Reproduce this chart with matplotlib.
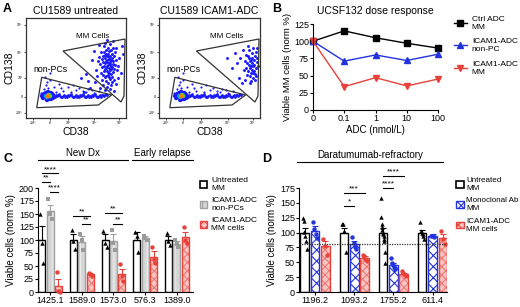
import numpy as np
import matplotlib
matplotlib.use('Agg')
import matplotlib.pyplot as plt
from matplotlib.patches import Patch, Polygon

plt.rcParams['font.family'] = ['Liberation Sans', 'DejaVu Sans']
plt.rcParams['hatch.linewidth'] = 0.8

W, H = 520, 307

# ---- panel A : flow plots (display units 0..100) ----
gate_mm_u = [37, 99, 98, 95]
gate_mm_v = [67, 79, 22, 16]
gate_pc_u = [15.7, 85.7, 72.3, 10.7]
gate_pc_v = [40.7, 23, 13, 10.3]

left_mm_u = [82, 80, 84, 78, 86, 81, 83, 79, 85, 77, 88, 82, 80, 84, 76, 87, 83, 79, 81, 85, 78, 86, 82, 80, 84, 77, 89, 75, 83, 81,
             79, 86, 88, 76, 84, 80, 82, 85, 78, 87, 83, 79, 81, 84, 77, 86, 80, 82, 83, 85, 74, 90, 73, 91, 78, 87, 81, 85, 76, 89,
             70, 92, 79, 84, 88, 72, 80, 86, 75, 83, 90, 71, 93, 77, 84, 66, 95, 87, 79, 68, 96, 74, 90, 81, 69, 92, 60, 97, 73, 88,
             64, 58, 62, 55, 83, 81, 85, 79, 87, 82]
left_mm_v = [53, 50, 56, 47, 60, 58, 45, 55, 52, 62, 49, 64, 42, 39, 51, 57, 67, 60, 47, 44, 66, 64, 70, 37, 48, 56, 53, 45, 59, 52,
             41, 41, 62, 59, 62, 64, 35, 68, 52, 46, 50, 49, 62, 54, 43, 51, 57, 43, 55, 58, 54, 58, 61, 48, 72, 70, 31, 33, 38, 66,
             48, 52, 75, 74, 38, 57, 68, 36, 66, 41, 70, 42, 60, 33, 29, 58, 45, 77, 28, 67, 72, 30, 34, 78, 36, 40, 44, 64, 73, 27,
             30, 26, 37, 40, 61, 56, 49, 63, 54, 46]

right_mm_u = [92, 90, 94, 88, 95, 91, 93, 89, 96, 87, 92, 90, 94, 97, 86, 91, 93, 88, 95, 89, 92, 96, 90, 94, 87, 93, 91, 97, 85, 89,
              95, 86, 92, 90, 98, 84, 93, 88, 96, 91, 80, 77, 72, 67, 83, 79, 85, 75, 97, 82]
right_mm_v = [55, 50, 58, 47, 62, 45, 52, 60, 50, 55, 65, 42, 47, 56, 50, 58, 40, 62, 44, 53, 48, 66, 57, 53, 43, 70, 37, 60, 57, 68,
              38, 63, 60, 35, 52, 48, 45, 72, 42, 52, 60, 55, 50, 60, 68, 40, 38, 65, 70, 35]

streak_u = [28, 31, 34, 37, 40, 43, 46, 49, 52, 55, 58, 61, 64, 67, 70, 73, 76, 79, 30, 36, 42, 48, 54, 60, 66, 72, 33, 45, 57, 69,
            29, 32, 35, 38, 41, 44, 47, 50, 53, 56, 59, 62, 65, 68, 71, 74, 39, 51, 63, 75, 27, 26, 77, 78, 80, 81]
streak_v = [22, 21.5, 22.3, 21.8, 22.1, 21.6, 22.4, 21.9, 22.2, 21.7, 22.3, 21.8, 22.1, 21.6, 22.4, 21.9, 22.6, 22.8, 23.2, 20.8,
            23, 20.9, 23.1, 20.9, 23.1, 20.8, 23.8, 23.7, 23.6, 23.5, 21.2, 22.9, 21.1, 22.8, 21.3, 22.7, 21.2, 22.8, 21.3, 22.6,
            21.2, 22.7, 21.3, 22.6, 21.4, 22.5, 20.5, 20.6, 20.6, 21, 21.5, 23, 23.2, 21.8, 23.6, 22.5]
scatter_u = [20, 24, 18, 28, 35, 42, 50, 57, 62, 68, 73, 30, 45, 24, 37, 53, 66, 15, 21, 19, 22, 60, 47, 33]
scatter_v = [33, 38, 29, 31, 30, 31, 28, 27, 29, 25, 27, 26, 26, 45, 27, 30, 28, 25, 36, 41, 30, 26, 33, 34]

blob_u = [17, 18, 20, 22, 25, 27, 27, 25, 21, 18, 19, 24, 16, 26, 23, 21, 23, 22, 20, 24, 22]
blob_v = [20, 24, 25, 26, 25, 23, 20, 19, 18, 21, 22, 21, 22, 24, 19, 21, 23, 22.5, 22, 22, 21.8]
blob_c = ['#1a1aff'] * 15 + ['#00c8c8', '#30d060', '#a0e000', '#00b0e0', '#60d040', '#ff7a00']

flow_xticks = [7, 24, 42, 68, 93]
flow_yticks = [5, 21, 40, 66, 93]
flow_ticklabels = ['-10³', '0', '10³', '10⁴', '10⁵']

# ---- panel B : dose response ----
doses = ['0', '0.1', '1', '10', '100']
ctrl_mm = [100, 115, 105, 97, 90]
icam_nonpc = [100, 71, 80, 72, 81]
icam_mm = [100, 34, 47, 35, 45]

# ---- panel C ----
c_groups = ['1425.1', '1589.0', '1573.0', '576.3', '1389.0']
c_untr_mean = [100, 100, 100, 100, 100]
c_untr_err = [27, 12, 11, 15, 8]
c_npc_mean = [155, 97, 98, 104, 93]
c_npc_err = [13, 10, 13, 3, 5]
c_mm_mean = [12, 34, 35, 68, 106]
c_mm_err = [13, 3, 10, 10, 9]
c_untr_pts = [[150, 95, 55], [119, 98, 82], [118, 95, 87], [115, 108, 77], [113, 98, 90]]
c_npc_pts = [[178, 150, 140], [112, 100, 80], [120, 95, 80], [108, 104, 100], [100, 93, 87]]
c_mm_pts = [[38, 1, 0], [37, 35, 31], [53, 30, 22], [87, 63, 55], [125, 100, 94]]
c_sig = [(0, 0, 2, 228, '****'), (0, 0, 1, 211, '**'), (0, 1, 2, 192, '****'),
         (1, 0, 2, 147, '**'), (1, 1, 2, 130, '**'), (2, 0, 2, 152, '**'), (2, 1, 2, 130, '**')]

# ---- panel D ----
d_groups = ['1196.2', '1093.2', '1755.2', '611.4']
d_untr_mean = [100, 100, 100, 100]
d_untr_err = [8, 8, 8, 4]
d_mab_mean = [103, 80, 45, 94]
d_mab_err = [8, 5, 4, 3]
d_mm_mean = [77, 57, 30, 91]
d_mm_err = [8, 4, 2, 7]
d_untr_pts = [[124, 120, 101, 95, 85, 73], [115, 115, 102, 68],
              [158, 127, 115, 110, 105, 100, 97, 95, 90, 85, 68, 48], [117, 103, 100, 97, 95, 90]]
d_mab_pts = [[117, 106, 98, 91], [92, 82, 75, 72], [57, 48, 45, 42, 40, 38], [95, 94, 93]]
d_mm_pts = [[90, 78, 63], [62, 60, 55, 52], [35, 32, 30, 28, 27], [103, 90, 80]]
d_sig = [(1, 0, 1, 145, '*'), (1, 0, 2, 167, '***'), (2, 0, 1, 175, '****'), (2, 0, 2, 195, '****')]
d_cutoff = 80

BLUE = '#1a1aff'
RED = '#e8413a'
GRAY = '#a0a0a0'
MAB = '#2233dd'

fig = plt.figure(figsize=(W / 100, H / 100), dpi=100)


def px_axes(l, t, r, b):
    return fig.add_axes([l / W, 1 - b / H, (r - l) / W, (b - t) / H])


def flow_panel(ax, title, mm_u, mm_v):
    ax.set_xlim(0, 100)
    ax.set_ylim(0, 100)
    for s in ax.spines.values():
        s.set_color('#333333')
        s.set_linewidth(0.9)
    ax.scatter(scatter_u, scatter_v, s=2.5, color=BLUE, lw=0)
    ax.scatter(streak_u, streak_v, s=4, color=BLUE, lw=0)
    ax.scatter(mm_u, mm_v, s=4.5, color=BLUE, lw=0)
    ax.scatter(blob_u, blob_v, s=10, c=blob_c, lw=0)
    ax.add_patch(Polygon(list(zip(gate_mm_u, gate_mm_v)), closed=True, fill=False, ec='#333333', lw=0.9))
    ax.add_patch(Polygon(list(zip(gate_pc_u, gate_pc_v)), closed=True, fill=False, ec='#333333', lw=0.9))
    ax.text(67, 82, 'MM Cells', fontsize=5.8, ha='center', va='center')
    ax.text(24, 49, 'non-PCs', fontsize=6.3, ha='center', va='center')
    ax.set_xticks(flow_xticks)
    ax.set_xticklabels(flow_ticklabels, fontsize=2.5)
    ax.set_yticks(flow_yticks)
    ax.set_yticklabels(flow_ticklabels, fontsize=2.5)
    ax.tick_params(length=1.5, width=0.5, pad=1)
    ax.set_xlabel('CD38', fontsize=7.5, labelpad=1)
    ax.set_ylabel('CD138', fontsize=7.5, labelpad=1)
    ax.set_title(title, fontsize=7.5, pad=3)


flow_panel(px_axes(26, 18, 126, 118), 'CU1589 untreated', left_mm_u, left_mm_v)
flow_panel(px_axes(159, 18, 260, 118), 'CU1589 ICAM1-ADC', right_mm_u, right_mm_v)


def style_axes(ax):
    for s in ['top', 'right']:
        ax.spines[s].set_visible(False)
    ax.tick_params(labelsize=6.5, length=2, width=0.8, pad=1)


# ---- panel B ----
axb = px_axes(313, 24, 438, 110)
xb = np.arange(len(doses))
axb.plot(xb, ctrl_mm, color='black', marker='s', ms=4, lw=1, clip_on=False, label='Ctrl ADC\nMM')
axb.plot(xb, icam_nonpc, color=MAB, marker='^', ms=4, lw=1, clip_on=False, label='ICAM1-ADC\nnon-PC')
axb.plot(xb, icam_mm, color=RED, marker='v', ms=4, lw=1, clip_on=False, label='ICAM1-ADC\nMM')
axb.set_xlim(0, 4)
axb.set_ylim(0, 125)
axb.set_xticks(xb)
axb.set_xticklabels(doses)
axb.set_yticks(range(0, 126, 25))
axb.set_xlabel('ADC (nmol/L)', fontsize=7, labelpad=1)
axb.set_ylabel('Viable MM cells (norm %)', fontsize=6.8, labelpad=1)
axb.set_title('UCSF132 dose response', fontsize=7.5, pad=7)
axb.legend(loc='upper left', bbox_to_anchor=(446 / W, 1 - 8 / H), bbox_transform=fig.transFigure,
           frameon=False, fontsize=6, handlelength=1.6, labelspacing=0.9, handletextpad=0.6)
style_axes(axb)


def hatched_bar(ax, x, h, w, face, hatch, hcolor, edge):
    ax.bar(x, h, w, color=face, hatch=hatch, edgecolor=hcolor, lw=0, zorder=2)
    ax.bar(x, h, w, fill=False, edgecolor=edge, lw=1, zorder=3)


def bar_panel(ax, groups, series, sigs, ymax, step):
    xg = np.arange(len(groups))
    bw, off = 0.22, 0.265
    for k, (means, errs, pts, face, hatch, hcol, edge, mk, mcol) in enumerate(series):
        xs = xg + (k - 1) * off
        for i in range(len(groups)):
            hatched_bar(ax, xs[i], means[i], bw, face, hatch, hcol, edge)
        ax.errorbar(xs, means, yerr=[[0] * len(means), errs], fmt='none', ecolor=edge,
                    capsize=2, elinewidth=0.8, capthick=0.8, zorder=4)
        for i in range(len(groups)):
            n = len(pts[i])
            jit = np.linspace(-0.05, 0.05, n) if n > 1 else [0]
            ax.scatter(xs[i] + jit, pts[i], marker=mk, s=10, color=mcol, lw=0, zorder=5, clip_on=False)
    for g, a, b, y, txt in sigs:
        x1 = g + (a - 1) * off
        x2 = g + (b - 1) * off
        ax.plot([x1, x2], [y, y], color='black', lw=0.8, clip_on=False)
        ax.text((x1 + x2) / 2, y + ymax * 0.005, txt, ha='center', va='bottom', fontsize=6, clip_on=False)
    ax.set_xticks(xg)
    ax.set_xticklabels(groups)
    ax.set_ylim(0, ymax)
    ax.set_yticks(range(0, ymax + 1, step))
    ax.set_ylabel('Viable cells (norm %)', fontsize=7, labelpad=2)
    style_axes(ax)


# ---- panel C ----
axc = px_axes(38, 188, 193, 292)
axc.set_xlim(-0.38, 4.51)
bar_panel(axc, c_groups, [
    (c_untr_mean, c_untr_err, c_untr_pts, 'white', None, 'black', 'black', '^', 'black'),
    (c_npc_mean, c_npc_err, c_npc_pts, '#d6d6d6', '|||', '#ececec', GRAY, 's', '#9a9a9a'),
    (c_mm_mean, c_mm_err, c_mm_pts, '#f9c4c4', 'xxxx', '#f07a74', RED, 'o', RED),
], c_sig, 200, 25)
for x1, x2, txt in [(-0.38, 2.46, 'New Dx'), (2.59, 4.51, 'Early relapse')]:
    axc.plot([x1, x2], [253, 253], color='black', lw=0.8, clip_on=False)
    axc.text((x1 + x2) / 2, 257, txt, ha='center', va='bottom', fontsize=7, clip_on=False)
axc.legend(handles=[Patch(facecolor='white', edgecolor='black', lw=1.2, label='Untreated\nMM'),
                    Patch(facecolor='#d6d6d6', edgecolor=GRAY, hatch='|||', lw=1, label='ICAM1-ADC\nnon-PCs'),
                    Patch(facecolor='#f9c4c4', edgecolor=RED, hatch='xxxx', lw=1, label='ICAM1-ADC\nMM cells')],
           loc='upper left', bbox_to_anchor=(192 / W, 1 - 170 / H), bbox_transform=fig.transFigure,
           frameon=False, fontsize=6, handlelength=0.9, handleheight=0.9, labelspacing=0.6, handletextpad=0.5)

# ---- panel D ----
axd = px_axes(299, 188, 447, 292)
axd.set_xlim(-0.41, 3.37)
bar_panel(axd, d_groups, [
    (d_untr_mean, d_untr_err, d_untr_pts, 'white', None, 'black', 'black', '^', 'black'),
    (d_mab_mean, d_mab_err, d_mab_pts, 'white', 'xxx', MAB, MAB, 'o', MAB),
    (d_mm_mean, d_mm_err, d_mm_pts, '#f9c4c4', 'xxxx', '#f07a74', RED, 'o', RED),
], d_sig, 175, 25)
axd.axhline(d_cutoff, xmin=0, xmax=1, color='#333333', ls=(0, (1, 1)), lw=0.9, zorder=6)
axd.plot([-0.46, 3.27], [218, 218], color='black', lw=0.8, clip_on=False)
axd.text(1.4, 222, 'Daratumumab-refractory', ha='center', va='bottom', fontsize=7, clip_on=False)
axd.legend(handles=[Patch(facecolor='white', edgecolor='black', lw=1.2, label='Untreated\nMM'),
                    Patch(facecolor='white', edgecolor=MAB, hatch='xxx', lw=1, label='Monoclonal Ab\nMM'),
                    Patch(facecolor='#f9c4c4', edgecolor=RED, hatch='xxxx', lw=1, label='ICAM1-ADC\nMM cells')],
           loc='upper left', bbox_to_anchor=(449 / W, 1 - 170 / H), bbox_transform=fig.transFigure,
           frameon=False, fontsize=5.8, handlelength=0.9, handleheight=0.9, labelspacing=0.65, handletextpad=0.3)

# panel letters
for lx, ly, letter in [(3, 12, 'A'), (272, 12, 'B'), (3, 162, 'C'), (262, 162, 'D')]:
    fig.text(lx / W, 1 - ly / H, letter, fontsize=9, fontweight='bold', va='baseline')

fig.savefig('out.png', dpi=100)
